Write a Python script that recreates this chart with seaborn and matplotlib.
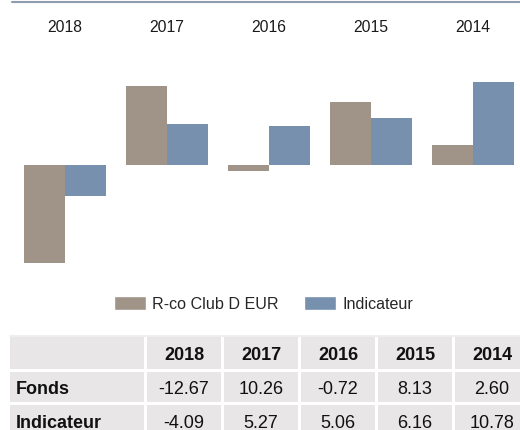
import matplotlib
matplotlib.use("Agg")
import matplotlib.pyplot as plt
from matplotlib.patches import Rectangle, Patch
from matplotlib.lines import Line2D
import pandas as pd
import seaborn as sns

# Annual performance (%)
years = ["2018", "2017", "2016", "2015", "2014"]
fonds = [-12.67, 10.26, -0.72, 8.13, 2.60]
indicateur = [-4.09, 5.27, 5.06, 6.16, 10.78]
series_names = ["R-co Club D EUR", "Indicateur"]
row_labels = ["Fonds", "Indicateur"]

BROWN = "#a09488"
BLUE = "#7690ae"
CELL = "#e8e6e7"

sns.set_theme(style="white")
plt.rcParams["font.family"] = ["Liberation Sans", "DejaVu Sans"]

df = pd.DataFrame({
    "year": years * 2,
    "value": fonds + indicateur,
    "series": [series_names[0]] * len(years) + [series_names[1]] * len(years),
})

W, H = 520, 430
fig = plt.figure(figsize=(W / 100, H / 100), dpi=100)

# bar chart area (pixel geometry converted to figure fractions)
ax_top, ax_bot = 1.5, 280.0
ax = fig.add_axes([14 / W, 1 - ax_bot / H, 510 / W, (ax_bot - ax_top) / H])
sns.barplot(data=df, x="year", y="value", hue="series", order=years,
            hue_order=series_names, palette=[BROWN, BLUE], saturation=1,
            width=0.8, linewidth=0, ax=ax)
ax.legend_.remove()
ax.set_xlim(-0.5, len(years) - 0.5)
ax.set_ylim(-14.94, 21.23)
ax.set_xlabel("")
ax.set_ylabel("")
ax.set_yticks([])
for s in ax.spines.values():
    s.set_visible(False)
ax.xaxis.set_ticks_position("top")
ax.tick_params(axis="x", length=0, pad=-23.8, labelsize=11.3, labelcolor="#1a1a1a")
ax.patch.set_alpha(0)

# top rule
fig.add_artist(Line2D([12 / W, 1], [1 - 1.5 / H] * 2, color="#8e9cb1", lw=1.5,
                      transform=fig.transFigure))

# legend
handles = [Patch(facecolor=BROWN), Patch(facecolor=BLUE)]
fig.legend(handles, series_names, loc="center", bbox_to_anchor=(263.5 / W, 1 - 304 / H),
           ncol=2, frameon=False, fontsize=11.6, handlelength=2.0, handleheight=0.9,
           handletextpad=0.4, columnspacing=1.55)

# summary table
def fx(px):
    return px / W

def fy(py):
    return 1 - py / H

fig.add_artist(Line2D([fx(10), 1], [fy(335.5)] * 2, color="#ebebeb", lw=1.2,
                      transform=fig.transFigure))

col_x = [(10, 144)] + [(147 + 77 * i, 221 + 77 * i) for i in range(len(years))]
row_y = [(337, 369), (372, 402), (405, 437)]

table = [[""] + years,
         [row_labels[0]] + [f"{v:.2f}" for v in fonds],
         [row_labels[1]] + [f"{v:.2f}" for v in indicateur]]

for r, (y0, y1) in enumerate(row_y):
    for c, (x0, x1) in enumerate(col_x):
        fig.add_artist(Rectangle((fx(x0), fy(y1)), fx(x1 - x0), (y1 - y0) / H,
                                 facecolor=CELL, edgecolor="none",
                                 transform=fig.transFigure))
        txt = table[r][c]
        if not txt:
            continue
        bold = (r == 0) or (c == 0)
        if c == 0:
            fig.text(fx(16), fy((y0 + y1) / 2), txt, ha="left", va="center_baseline",
                     fontsize=13, fontweight="bold", color="#111111")
        else:
            fig.text(fx((x0 + x1) / 2), fy((y0 + y1) / 2), txt, ha="center",
                     va="center_baseline", fontsize=13,
                     fontweight="bold" if bold else "normal", color="#111111")

fig.savefig("out.png", dpi=100)
